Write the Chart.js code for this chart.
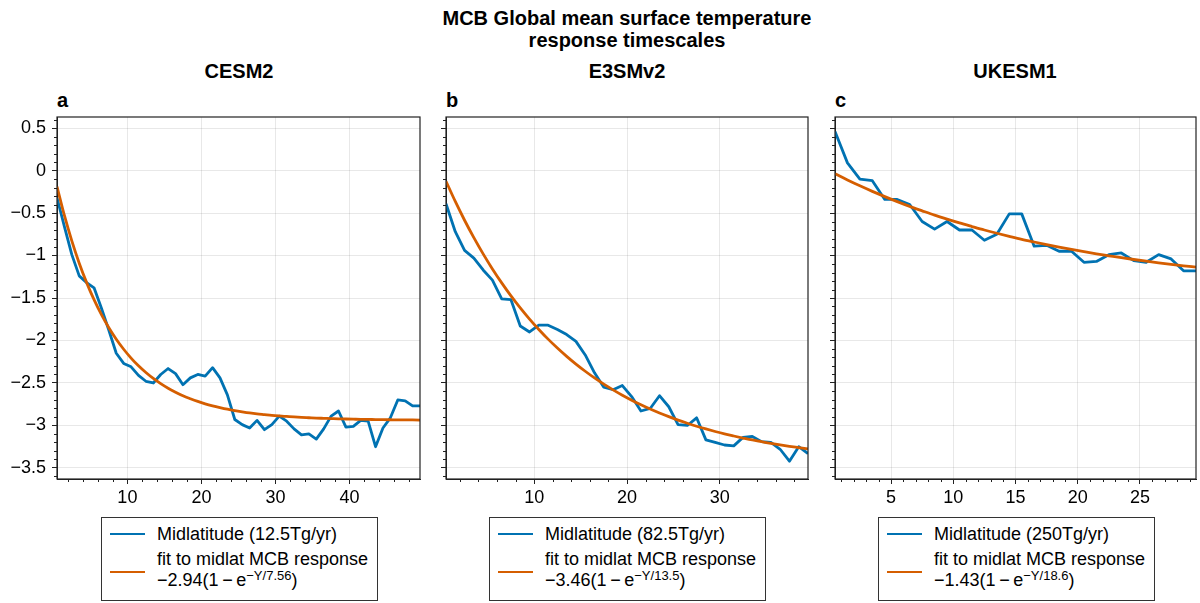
<!DOCTYPE html>
<html>
<head>
<meta charset="utf-8">
<title>MCB response timescales</title>
<script src="https://cdn.jsdelivr.net/npm/chart.js@4.4.1/dist/chart.umd.min.js"></script>
<style>
  body { margin:0; width:1200px; height:603px; position:relative; overflow:hidden; background:#fff;
         font-family:"Liberation Sans", Arial, sans-serif; color:#000; }
  .abs { position:absolute; }
  .suptitle { left:327px; width:600px; top:7px; text-align:center; font-weight:bold; font-size:20px; line-height:22px; }
  .toplabel { width:240px; top:59px; text-align:center; font-weight:bold; font-size:20px; line-height:24px; }
  .abc { top:88px; font-weight:bold; font-size:20px; line-height:24px; }
  .legend { top:517px; width:277px; height:84px; box-sizing:border-box; border:1px solid #333; background:#fff;
            font-size:18px; padding-top:5px; }
  .legend .row { display:flex; align-items:center; }
  .legend .row + .row { margin-top:4px; }
  .legend .sw { display:inline-block; width:35px; margin-left:8px; margin-right:12px; border-top:2.5px solid; flex:none; }
  .legend .tx { line-height:21px; white-space:nowrap; }
  .legend .row:first-child .tx { line-height:22px; }
  .legend sup { font-size:13px; line-height:0; vertical-align:6px; }
</style>
</head>
<body>
<div class="abs suptitle">MCB Global mean surface temperature<br>response timescales</div>

<div class="abs toplabel" style="left:119px">CESM2</div>
<div class="abs toplabel" style="left:507px">E3SMv2</div>
<div class="abs toplabel" style="left:895px">UKESM1</div>

<div class="abs abc" style="left:57px">a</div>
<div class="abs abc" style="left:446px">b</div>
<div class="abs abc" style="left:835px">c</div>

<canvas id="chartA" class="abs" style="left:0px;top:110px" width="422" height="399"></canvas>
<canvas id="chartB" class="abs" style="left:440px;top:110px" width="370" height="399"></canvas>
<canvas id="chartC" class="abs" style="left:829px;top:110px" width="369" height="399"></canvas>

<div id="legendA" class="abs legend" style="left:101px"></div>
<div id="legendB" class="abs legend" style="left:489px"></div>
<div id="legendC" class="abs legend" style="left:878px"></div>

<script>
// model years (mid-year positions)
const yearsA = [0.5,1.5,2.5,3.5,4.5,5.5,6.5,7.5,8.5,9.5,10.5,11.5,12.5,13.5,14.5,15.5,16.5,17.5,18.5,19.5,
  20.5,21.5,22.5,23.5,24.5,25.5,26.5,27.5,28.5,29.5,30.5,31.5,32.5,33.5,34.5,35.5,36.5,37.5,38.5,39.5,
  40.5,41.5,42.5,43.5,44.5,45.5,46.5,47.5,48.5,49.5];
const yearsB = [0.5,1.5,2.5,3.5,4.5,5.5,6.5,7.5,8.5,9.5,10.5,11.5,12.5,13.5,14.5,15.5,16.5,17.5,18.5,19.5,
  20.5,21.5,22.5,23.5,24.5,25.5,26.5,27.5,28.5,29.5,30.5,31.5,32.5,33.5,34.5,35.5,36.5,37.5,38.5,39.5];
const yearsC = [0.5,1.5,2.5,3.5,4.5,5.5,6.5,7.5,8.5,9.5,10.5,11.5,12.5,13.5,14.5,15.5,16.5,17.5,18.5,19.5,
  20.5,21.5,22.5,23.5,24.5,25.5,26.5,27.5,28.5,29.5];

// midlatitude MCB response (K)
const obsA = [-0.32,-0.66,-0.99,-1.24,-1.32,-1.38,-1.62,-1.88,-2.15,-2.27,-2.31,-2.41,-2.48,-2.50,-2.40,-2.33,
  -2.39,-2.52,-2.44,-2.40,-2.42,-2.32,-2.44,-2.64,-2.93,-2.99,-3.03,-2.94,-3.05,-2.99,-2.89,-2.95,-3.04,-3.11,
  -3.10,-3.16,-3.04,-2.89,-2.83,-3.02,-3.01,-2.94,-2.95,-3.25,-3.03,-2.91,-2.70,-2.71,-2.77,-2.77];
const obsB = [-0.39,-0.72,-0.94,-1.03,-1.17,-1.29,-1.51,-1.52,-1.83,-1.90,-1.82,-1.82,-1.87,-1.93,-2.01,-2.17,
  -2.38,-2.55,-2.58,-2.53,-2.66,-2.83,-2.80,-2.65,-2.78,-2.99,-3.00,-2.91,-3.17,-3.20,-3.23,-3.24,-3.14,-3.13,
  -3.19,-3.20,-3.28,-3.42,-3.25,-3.33];
const obsC = [0.46,0.09,-0.10,-0.12,-0.34,-0.34,-0.40,-0.60,-0.69,-0.60,-0.70,-0.70,-0.82,-0.75,-0.51,-0.51,
  -0.89,-0.88,-0.95,-0.95,-1.08,-1.07,-0.99,-0.97,-1.06,-1.08,-0.99,-1.04,-1.18,-1.18];

// fitted curves, read at the same years
const fitA = [-0.188,-0.529,-0.828,-1.090,-1.319,-1.520,-1.696,-1.850,-1.985,-2.103,-2.207,-2.298,-2.377,-2.447,
  -2.508,-2.562,-2.608,-2.650,-2.685,-2.717,-2.745,-2.769,-2.790,-2.809,-2.825,-2.839,-2.852,-2.863,-2.872,-2.881,
  -2.888,-2.894,-2.900,-2.905,-2.909,-2.913,-2.916,-2.919,-2.922,-2.924,-2.926,-2.928,-2.929,-2.931,-2.932,-2.933,
  -2.934,-2.934,-2.935,-2.936];
const fitB = [-0.126,-0.364,-0.585,-0.790,-0.981,-1.158,-1.322,-1.475,-1.616,-1.748,-1.870,-1.984,-2.089,-2.187,
  -2.278,-2.362,-2.441,-2.514,-2.581,-2.644,-2.702,-2.756,-2.806,-2.853,-2.896,-2.937,-2.974,-3.009,-3.041,-3.071,
  -3.099,-3.124,-3.148,-3.171,-3.191,-3.211,-3.229,-3.245,-3.260,-3.275];
const fitC = [-0.038,-0.111,-0.180,-0.245,-0.307,-0.366,-0.422,-0.474,-0.525,-0.572,-0.617,-0.659,-0.700,-0.738,
  -0.774,-0.809,-0.841,-0.872,-0.901,-0.929,-0.955,-0.980,-1.003,-1.026,-1.047,-1.067,-1.086,-1.104,-1.121,-1.137];

const obsLabels = ['Midlatitude (12.5Tg/yr)', 'Midlatitude (82.5Tg/yr)', 'Midlatitude (250Tg/yr)'];
const fitLabels = [
  'fit to midlat MCB response<br>\u22122.94(1\u2009\u2212\u2009e<sup>\u2212Y/7.56</sup>)',
  'fit to midlat MCB response<br>\u22123.46(1\u2009\u2212\u2009e<sup>\u2212Y/13.5</sup>)',
  'fit to midlat MCB response<br>\u22121.43(1\u2009\u2212\u2009e<sup>\u2212Y/18.6</sup>)'
];

// tick positions
const yTicks = [0.5, 0, -0.5, -1, -1.5, -2, -2.5, -3, -3.5];
const xTicksA = [10, 20, 30, 40];
const xTicksB = [10, 20, 30];
const xTicksC = [5, 10, 15, 20, 25];

const BLUE = '#0072B2';
const ORANGE = '#D55E00';
const FONT = '"Liberation Sans", Arial, sans-serif';
Chart.defaults.font.family = FONT;
Chart.defaults.color = '#000';

const fmt = (v) => (v < 0 ? '\u2212' : '') + Math.abs(v);

// box round the axes, drawn on top of the lines
const frame = {
  id: 'frame',
  afterDraw(chart){
    const {ctx, chartArea:a} = chart;
    ctx.save();
    ctx.strokeStyle = '#222';
    ctx.lineWidth = 1.2;
    ctx.strokeRect(a.left, a.top, a.right - a.left, a.bottom - a.top);
    ctx.restore();
  }
};

// chart.js has no minor ticks, so draw them from the scales
const minorTicks = {
  id: 'minorTicks',
  afterDraw(chart, args, opts){
    const {ctx, chartArea:a, scales:{x, y}} = chart;
    ctx.save();
    ctx.strokeStyle = '#222';
    ctx.lineWidth = 1;
    ctx.beginPath();
    for(let k = -36; k <= 6; k++){
      if(k % 5 === 0) continue;
      const py = Math.round(y.getPixelForValue(k / 10)) + 0.5;
      ctx.moveTo(a.left, py); ctx.lineTo(a.left - 3, py);
    }
    for(let v = opts.step; v < x.max; v += opts.step){
      if(opts.major.includes(v)) continue;
      const px = Math.round(x.getPixelForValue(v)) + 0.5;
      ctx.moveTo(px, a.bottom); ctx.lineTo(px, a.bottom + 3);
    }
    ctx.stroke();
    ctx.restore();
  }
};

// legend in html, so the fit formula can have a superscript
const htmlLegend = {
  id: 'htmlLegend',
  afterUpdate(chart, args, opts){
    const box = document.getElementById(opts.containerID);
    box.innerHTML = '';
    chart.data.datasets.slice().sort((p, q) => p.legendRank - q.legendRank).forEach(ds => {
      const row = document.createElement('div');
      row.className = 'row';
      const sw = document.createElement('span');
      sw.className = 'sw';
      sw.style.borderTopColor = ds.borderColor;
      if(ds.legendRank === 1) sw.style.transform = 'translateY(2px)';
      const tx = document.createElement('span');
      tx.className = 'tx';
      tx.innerHTML = ds.legendHtml;
      row.appendChild(sw);
      row.appendChild(tx);
      box.appendChild(row);
    });
  }
};

function makePanel(canvasId, legendId, years, obs, fit, xMax, xTicks, xStep, yWidth, showY, obsLabel, fitLabel){
  const ctx = document.getElementById(canvasId).getContext('2d');
  return new Chart(ctx, {
    type: 'line',
    data: {
      datasets: [
        {
          label: obsLabel, legendHtml: obsLabel, legendRank: 0,
          data: years.map((x, i) => ({x, y: obs[i]})),
          borderColor: BLUE, borderWidth: 2.8, pointRadius: 0, tension: 0,
          borderJoinStyle: 'round', order: 2
        },
        {
          label: 'fit', legendHtml: fitLabel, legendRank: 1,
          data: years.map((x, i) => ({x, y: fit[i]})),
          borderColor: ORANGE, borderWidth: 2.8, pointRadius: 0,
          cubicInterpolationMode: 'monotone', borderJoinStyle: 'round', order: 1
        }
      ]
    },
    options: {
      responsive: false,
      animation: false,
      devicePixelRatio: 1,
      layout: { padding: { top: 7, right: 2, bottom: 0, left: 0 } },
      plugins: {
        legend: { display: false },
        tooltip: { enabled: false },
        minorTicks: { step: xStep, major: xTicks },
        htmlLegend: { containerID: legendId }
      },
      scales: {
        x: {
          type: 'linear', min: 0.5, max: xMax,
          afterBuildTicks: s => { s.ticks = xTicks.map(v => ({value: v})); },
          afterFit: s => { s.height = 30; s.paddingLeft = 0; s.paddingRight = 0; },
          ticks: { font: { size: 18 }, color: '#000', padding: 3, maxRotation: 0, autoSkip: false, callback: v => fmt(v) },
          grid: { color: 'rgba(0,0,0,0.09)', lineWidth: 1, tickLength: 5, tickColor: '#222' },
          border: { display: true, color: '#222', width: 1 }
        },
        y: {
          type: 'linear', min: -3.63, max: 0.63,
          afterBuildTicks: s => { s.ticks = yTicks.map(v => ({value: v})); },
          afterFit: s => { s.width = yWidth; s.paddingTop = 0; s.paddingBottom = 0; },
          ticks: { display: showY, font: { size: 18 }, color: '#000', padding: 6, autoSkip: false, callback: v => fmt(v) },
          grid: { color: 'rgba(0,0,0,0.09)', lineWidth: 1, tickLength: 5, tickColor: '#222' },
          border: { display: true, color: '#222', width: 1 }
        }
      }
    },
    plugins: [minorTicks, frame, htmlLegend]
  });
}

makePanel('chartA', 'legendA', yearsA, obsA, fitA, 49.5, xTicksA, 2, 57, true, obsLabels[0], fitLabels[0]);
makePanel('chartB', 'legendB', yearsB, obsB, fitB, 39.5, xTicksB, 2, 6, false, obsLabels[1], fitLabels[1]);
makePanel('chartC', 'legendC', yearsC, obsC, fitC, 29.5, xTicksC, 1, 6, false, obsLabels[2], fitLabels[2]);
</script>
</body>
</html>
